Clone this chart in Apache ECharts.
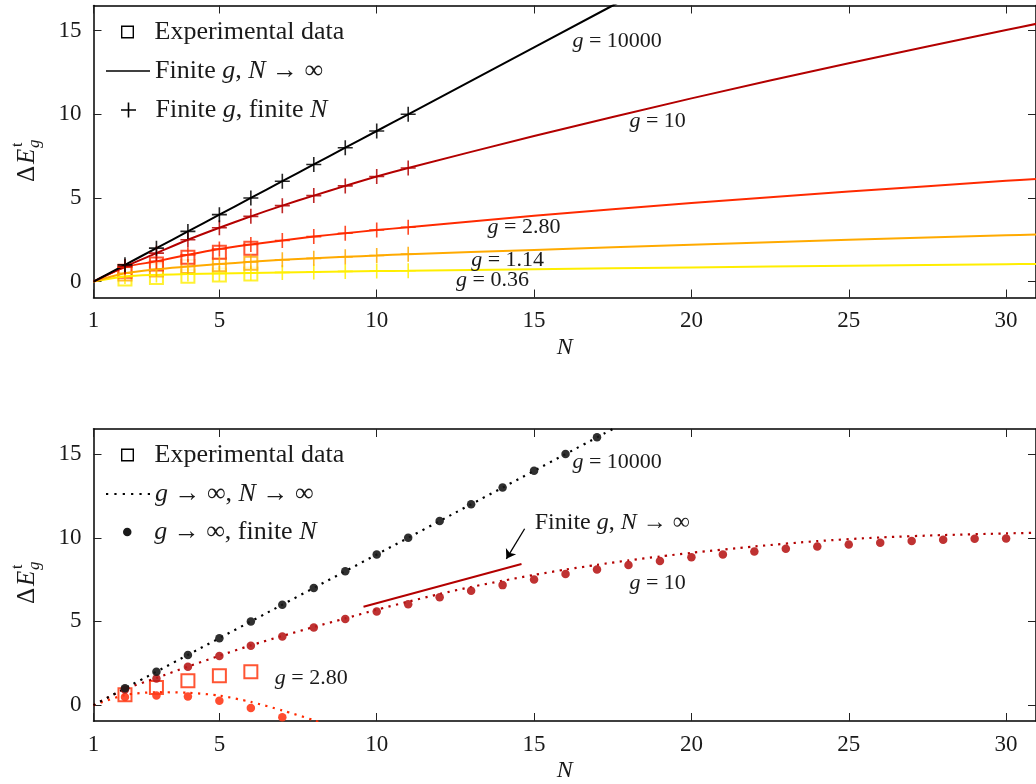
<!DOCTYPE html>
<html>
<head>
<meta charset="utf-8">
<title>Delta E vs N</title>
<script src="https://cdn.jsdelivr.net/npm/echarts@6/dist/echarts.min.js"></script>
<style>
    html, body { margin: 0; padding: 0; background: #fff; }
    #chart { width: 1036px; height: 784px; }
</style>
</head>
<body>
<div id="chart"></div>
<script>
// ---- data ----
// top panel: finite g, N -> infinity (solid lines)
const topLineN   = [1, 2, 3, 4, 5, 6, 7, 8, 9, 10, 11, 15, 20, 25, 30, 31];
const topG10000  = [0, 1, 2, 3, 4, 5, 6, 7, 8, 9, 10, 14, 19, 24, 29, 30];
const topG10     = [0, 0.9, 1.7, 2.5, 3.22, 3.9, 4.54, 5.14, 5.72, 6.28, 6.79, 8.7, 10.95, 13.05, 15.04, 15.42];
const topG280    = [0, 0.86, 1.21, 1.6, 1.95, 2.22, 2.46, 2.69, 2.89, 3.08, 3.25, 3.93, 4.7, 5.38, 6.02, 6.14];
const topG114    = [0, 0.5, 0.74, 0.9, 1.05, 1.18, 1.3, 1.39, 1.48, 1.56, 1.64, 1.89, 2.2, 2.5, 2.77, 2.81];
const topG036    = [0, 0.3, 0.4, 0.45, 0.49, 0.52, 0.55, 0.58, 0.61, 0.63, 0.65, 0.74, 0.85, 0.95, 1.04, 1.05];

// top panel: finite g, finite N (crosses)
const crossN     = [2, 3, 4, 5, 6, 7, 8, 9, 10, 11];
const crossG10000 = [1, 2, 3, 4, 5, 6, 7, 8, 9, 10];
const crossG10   = [0.9, 1.7, 2.5, 3.22, 3.9, 4.54, 5.14, 5.72, 6.28, 6.79];
const crossG280  = [0.86, 1.21, 1.6, 1.95, 2.22, 2.46, 2.69, 2.89, 3.08, 3.25];
const crossG114  = [0.5, 0.74, 0.9, 1.05, 1.18, 1.3, 1.39, 1.48, 1.56, 1.64];
const crossG036  = [0.3, 0.4, 0.45, 0.49, 0.52, 0.55, 0.58, 0.61, 0.63, 0.65];

// experimental data (squares)
const expN       = [2, 3, 4, 5, 6];
const expG280    = [0.62, 1.05, 1.45, 1.75, 1.99];
const expG114    = [0.45, 0.7, 0.9, 1.0, 1.1];
const expG036    = [0.15, 0.25, 0.32, 0.4, 0.45];

// bottom panel: g -> infinity, N -> infinity (dotted)
const infN10000  = [1, 18];
const infG10000  = [0, 17];
const infN10     = [1, 2, 3, 4, 5, 6, 7, 8, 9, 10, 11, 12, 13, 14, 15, 16, 17, 18, 19, 20, 22, 24, 26, 28, 30, 31];
const infG10     = [0, 0.95, 1.62, 2.3, 2.95, 3.57, 4.13, 4.67, 5.18, 5.7, 6.18, 6.64, 7.06, 7.43, 7.78, 8.1, 8.38, 8.65, 8.88, 9.1, 9.48, 9.8, 10.02, 10.16, 10.26, 10.3];
const infN280    = [1, 2, 3, 4, 5, 6, 7, 8, 8.5];
const infG280    = [0, 0.6, 0.77, 0.74, 0.57, 0.19, -0.32, -0.9, -1.25];

// bottom panel: g -> infinity, finite N (dots)
const dotN10000  = [2, 3, 4, 5, 6, 7, 8, 9, 10, 11, 12, 13, 14, 15, 16, 17];
const dotG10000  = [1, 2, 3, 4, 5, 6, 7, 8, 9, 10, 11, 12, 13, 14, 15, 16];
const dotN10     = [2, 3, 4, 5, 6, 7, 8, 9, 10, 11, 12, 13, 14, 15, 16, 17, 18, 19, 20, 21, 22, 23, 24, 25, 26, 27, 28, 29, 30];
const dotG10     = [0.93, 1.59, 2.29, 2.93, 3.55, 4.1, 4.64, 5.14, 5.6, 6.03, 6.44, 6.83, 7.17, 7.51, 7.83, 8.11, 8.37, 8.61, 8.83, 9.0, 9.18, 9.34, 9.48, 9.6, 9.7, 9.8, 9.88, 9.94, 9.96];
const dotN280    = [2, 3, 4, 5, 6, 7];
const dotG280    = [0.48, 0.58, 0.52, 0.26, -0.18, -0.72];

// bottom panel: short finite-g segment the arrow points at
const segN       = [9.58, 14.6];
const segG       = [5.88, 8.43];

// axes
const xTicks     = [1, 5, 10, 15, 20, 25, 30];
const yTicks     = [0, 5, 10, 15];

// annotation anchors (data coords) and texts
const topLabels = [
    { text: '{i|g} = 10000', at: [16.22, 14.35] },
    { text: '{i|g} = 10',    at: [18.03, 9.56] },
    { text: '{i|g} = 2.80',  at: [13.52, 3.23] },
    { text: '{i|g} = 1.14',  at: [13.0, 1.3] },
    { text: '{i|g} = 0.36',  at: [12.52, 0.06] }
];
const bottomLabels = [
    { text: '{i|g} = 10000', at: [16.22, 14.52] },
    { text: '{i|g} = 10',    at: [18.03, 7.31] },
    { text: '{i|g} = 2.80',  at: [6.76, 1.59] },
    { text: 'Finite {i|g}, {i|N} → ∞', at: [15.02, 10.93], big: true }
];
const arrowFrom = [14.70, 10.54];
const arrowTo   = [14.12, 8.74];

// ---- styling ----
const FONT = 'Liberation Serif';
const INK = '#1a1a1a';
const colG10000 = '#000000';
const colG10 = '#b30000';
const colG280 = '#ff2a00';
const colG114 = '#ffaa00';
const colG036 = '#ffee00';
const PLUS = 'path://M6.25,0H7.75V6.25H14V7.75H7.75V14H6.25V7.75H0V6.25H6.25Z';
// legend sample icons
const ICON_SQUARE = 'path://M0,0H13V13H0ZM1.4,1.4V11.6H11.6V1.4Z';
const ICON_LINE = 'path://M0,0H44V1.4H0Z';
const ICON_DOTS = 'path://M0,0h2v2h-2zM7.5,0h2v2h-2zM15,0h2v2h-2zM22.5,0h2v2h-2zM30,0h2v2h-2zM37.5,0h2v2h-2z';
const ICON_DOT = 'path://M0,4A4,4,0,1,0,8,4A4,4,0,1,0,0,4Z';

function pairs (xs, ys){
    return xs.map(function(x, i){ return [x, ys[i]]; });
}

function xAxisFor (grid, pos){
    const main = pos === 'bottom';
    return {
        type: 'value', gridIndex: grid, position: pos,
        min: 1, max: 30.95,
        name: main ? 'N' : '', nameLocation: 'middle', nameGap: 38,
        nameTextStyle: { fontFamily: FONT, fontStyle: 'italic', fontSize: 24, color: INK },
        axisLine: { show: true, onZero: false, lineStyle: { color: '#000', width: 1.5 } },
        axisTick: { show: true, inside: true, length: 8, customValues: xTicks, lineStyle: { color: '#222', width: 1 } },
        axisLabel: { show: main, margin: 12, customValues: xTicks, fontFamily: FONT, fontSize: 23, color: INK },
        splitLine: { show: false }
    };
}

function yAxisFor (grid, pos){
    const main = pos === 'left';
    return {
        type: 'value', gridIndex: grid, position: pos,
        min: -0.95, max: 16.5,
        axisLine: { show: true, onZero: false, lineStyle: { color: '#000', width: 1.5 } },
        axisTick: { show: true, inside: true, length: 8, customValues: yTicks, lineStyle: { color: '#222', width: 1 } },
        axisLabel: { show: main, margin: 12, customValues: yTicks, fontFamily: FONT, fontSize: 23, color: INK },
        splitLine: { show: false }
    };
}

function solidLine (name, xi, xs, ys, color){
    return {
        name: name, type: 'line', xAxisIndex: xi, yAxisIndex: xi,
        data: pairs(xs, ys), symbol: 'none', smooth: 0.3,
        lineStyle: { color: color, width: 2 }, silent: true, z: 3
    };
}

function dottedLine (name, xi, xs, ys, color){
    return {
        name: name, type: 'line', xAxisIndex: xi, yAxisIndex: xi,
        data: pairs(xs, ys), symbol: 'none', smooth: 0.25,
        lineStyle: { color: color, width: 2.2, type: [2.2, 5.4], cap: 'butt' }, silent: true, z: 3
    };
}

function crosses (name, xs, ys, color){
    return {
        name: name, type: 'scatter', xAxisIndex: 0, yAxisIndex: 0,
        data: pairs(xs, ys), symbol: PLUS, symbolSize: 15,
        itemStyle: { color: color, opacity: 0.85 }, silent: true, z: 4
    };
}

function squares (name, xi, xs, ys, color){
    return {
        name: name, type: 'scatter', xAxisIndex: xi, yAxisIndex: xi,
        data: pairs(xs, ys), symbol: 'emptyRect', symbolSize: 13,
        itemStyle: { color: color, borderColor: color, borderWidth: 1.5, opacity: 0.8 }, silent: true, z: 2
    };
}

function dots (name, xs, ys, color){
    return {
        name: name, type: 'scatter', xAxisIndex: 2, yAxisIndex: 2,
        data: pairs(xs, ys), symbol: 'circle', symbolSize: 8.5,
        itemStyle: { color: color, opacity: 0.9 }, silent: true, z: 4
    };
}

function labels (name, xi, list){
    return {
        name: name, type: 'scatter', xAxisIndex: xi, yAxisIndex: xi,
        symbolSize: 0, silent: true, z: 6,
        itemStyle: { opacity: 1 },
        data: list.map(function(l){
            const item = { name: l.text, value: l.at };
            if (l.big) {
                item.label = { fontSize: 24, rich: { i: { fontStyle: 'italic', fontFamily: FONT, fontSize: 24, color: INK } } };
            }
            return item;
        }),
        label: {
            show: true, position: [0, 0], align: 'left', verticalAlign: 'middle',
            formatter: function(p){ return p.name; },
            fontFamily: FONT, color: INK, fontSize: 22,
            rich: { i: { fontStyle: 'italic', fontFamily: FONT, fontSize: 22, color: INK } }
        }
    };
}

// one legend component per entry, so each icon gets its own size
function legendItem (name, icon, text, left, top, iconH){
    return {
        data: [{ name: name, icon: icon }], orient: 'vertical', left: left, top: top, padding: 0,
        itemWidth: 44, itemHeight: iconH, itemGap: 0, selectedMode: false, symbolKeepAspect: true,
        formatter: function(){ return text; },
        textStyle: {
            fontFamily: FONT, fontSize: 26, color: INK, lineHeight: 26,
            rich: { i: { fontStyle: 'italic', fontFamily: FONT, fontSize: 26, color: INK } }
        }
    };
}

// rotated y-axis name: Delta E^t_g
function yName (cx, cy){
    return {
        type: 'group', x: cx, y: cy, rotation: Math.PI / 2, silent: true,
        children: [
            { type: 'text', x: -26, y: 0, style: { text: 'Δ', font: '25px "' + FONT + '"', fill: INK, align: 'left', verticalAlign: 'middle' } },
            { type: 'text', x: -8, y: 0, style: { text: 'E', font: 'italic 25px "' + FONT + '"', fill: INK, align: 'left', verticalAlign: 'middle' } },
            { type: 'text', x: 9, y: -9, style: { text: 't', font: '16px "' + FONT + '"', fill: INK, align: 'left', verticalAlign: 'middle' } },
            { type: 'text', x: 8, y: 8, style: { text: 'g', font: 'italic 17px "' + FONT + '"', fill: INK, align: 'left', verticalAlign: 'middle' } }
        ]
    };
}

const myChart = echarts.init(document.getElementById('chart'), null, { renderer: 'canvas' });

myChart.setOption({
    backgroundColor: '#fff',
    animation: false,
    grid: [
        { left: 93.5, top: 5.5, width: 944, height: 292 },
        { left: 93.5, top: 429, width: 944, height: 292 }
    ],
    xAxis: [xAxisFor(0, 'bottom'), xAxisFor(0, 'top'), xAxisFor(1, 'bottom'), xAxisFor(1, 'top')],
    yAxis: [yAxisFor(0, 'left'), yAxisFor(0, 'right'), yAxisFor(1, 'left'), yAxisFor(1, 'right')],
    legend: [
        legendItem('Experimental data', ICON_SQUARE, 'Experimental data', 121, 19, 13),
        legendItem('lineFinite', ICON_LINE, 'Finite {i|g}, {i|N} → ∞', 106, 58, 14),
        legendItem('crossFinite', PLUS, 'Finite {i|g}, finite {i|N}', 121, 97, 15),
        legendItem('Experimental data', ICON_SQUARE, 'Experimental data', 121, 442, 13),
        legendItem('dotInf', ICON_DOTS, '{i|g} → ∞, {i|N} → ∞', 106, 481, 14),
        legendItem('dotFinite', ICON_DOT, '{i|g} → ∞, finite {i|N}', 123, 519, 8.5)
    ],
    graphic: [yName(27, 156), yName(27, 578)],
    series: [
        // legend-only entries (black samples)
        { name: 'Experimental data', type: 'scatter', data: [], itemStyle: { color: '#000', opacity: 1 } },
        { name: 'lineFinite', type: 'scatter', data: [], itemStyle: { color: '#000', opacity: 1 } },
        { name: 'crossFinite', type: 'scatter', data: [], itemStyle: { color: '#000', opacity: 1 } },
        { name: 'dotInf', type: 'scatter', data: [], itemStyle: { color: '#000', opacity: 1 } },
        { name: 'dotFinite', type: 'scatter', data: [], itemStyle: { color: '#1a1a1a', opacity: 1 } },

        // top panel
        squares('exp top 0.36', 0, expN, expG036, colG036),
        squares('exp top 1.14', 0, expN, expG114, colG114),
        squares('exp top 2.80', 0, expN, expG280, colG280),
        solidLine('line 0.36', 0, topLineN, topG036, colG036),
        solidLine('line 1.14', 0, topLineN, topG114, colG114),
        solidLine('line 2.80', 0, topLineN, topG280, colG280),
        solidLine('line 10', 0, topLineN, topG10, colG10),
        solidLine('line 10000', 0, topLineN, topG10000, colG10000),
        crosses('cross 0.36', crossN, crossG036, colG036),
        crosses('cross 1.14', crossN, crossG114, colG114),
        crosses('cross 2.80', crossN, crossG280, colG280),
        crosses('cross 10', crossN, crossG10, colG10),
        crosses('cross 10000', crossN, crossG10000, colG10000),
        labels('labels top', 0, topLabels),

        // bottom panel
        squares('exp bottom 2.80', 2, expN, expG280, colG280),
        dottedLine('inf 2.80', 2, infN280, infG280, colG280),
        dottedLine('inf 10', 2, infN10, infG10, colG10),
        dottedLine('inf 10000', 2, infN10000, infG10000, colG10000),
        dots('dot 2.80', dotN280, dotG280, '#ff3a1a'),
        dots('dot 10', dotN10, dotG10, '#b81c1c'),
        dots('dot 10000', dotN10000, dotG10000, '#1a1a1a'),
        solidLine('segment 10', 2, segN, segG, colG10),
        {
            name: 'arrow', type: 'lines', coordinateSystem: 'cartesian2d', xAxisIndex: 2, yAxisIndex: 2,
            data: [{ coords: [arrowFrom, arrowTo] }],
            symbol: ['none', 'arrow'], symbolSize: 9,
            lineStyle: { color: '#000', width: 1.3, opacity: 1 }, silent: true, z: 5
        },
        labels('labels bottom', 2, bottomLabels)
    ]
});
</script>
</body>
</html>
